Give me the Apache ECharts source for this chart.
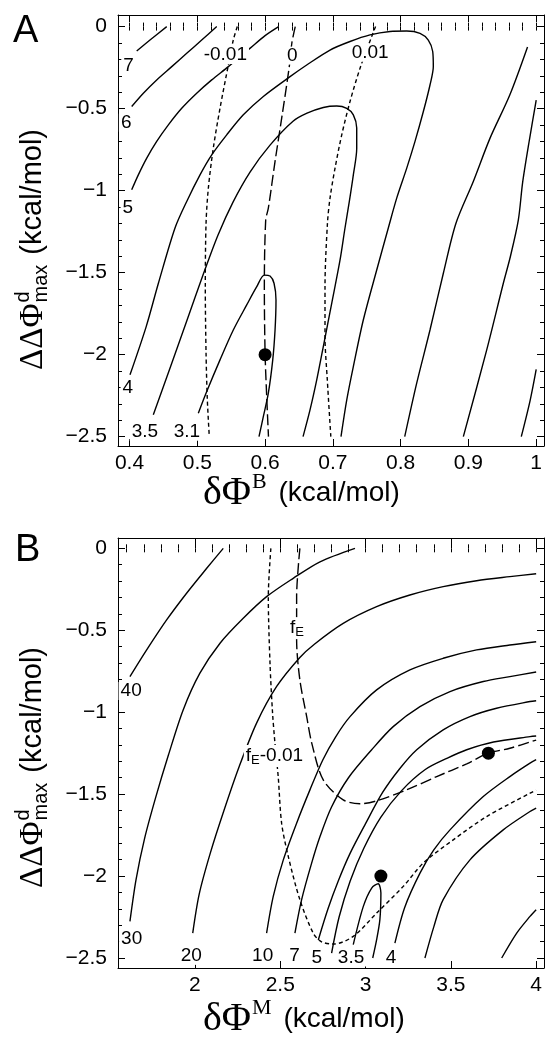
<!DOCTYPE html>
<html>
<head>
<meta charset="utf-8">
<script src="https://cdn.jsdelivr.net/npm/echarts@6/dist/echarts.min.js"></script>
<style>
  html, body { margin: 0; padding: 0; background: #fff; }
  #chart { width: 546px; height: 1039px; }
</style>
</head>
<body>
<div id="chart"></div>
<script>
const SANS = '"Liberation Sans", Arial, sans-serif';
const SERIF = '"Liberation Serif", "Times New Roman", serif';

// ---- axes (panel A: dPhiB, panel B: dPhiM) ----
const aXRange = [0.383, 1.0115];
const aYRange = [-2.557, 0.0706];
const bXRange = [1.549, 4.046];
const bYRange = [-2.561, 0.063];
const aXMajor = [0.4, 0.5, 0.6, 0.7, 0.8, 0.9, 1];
const bXMajor = [2, 2.5, 3, 3.5, 4];
const yMajor = [0, -0.5, -1, -1.5, -2, -2.5];

// ---- panel A contours ----
const aC7 = [[0.4106,-0.149],[0.4302,-0.082],[0.4549,0]];
const aC6 = [[0.4032,-0.487],[0.4204,-0.406],[0.4401,-0.325],[0.4623,-0.244],[0.4844,-0.163],[0.5065,-0.082],[0.5287,0]];
const aC5 = [[0.4032,-0.995],[0.413,-0.904],[0.4254,-0.802],[0.4401,-0.700],[0.4573,-0.599],[0.477,-0.498],[0.4991,-0.406],[0.5213,-0.325],[0.5458,-0.244],[0.5785,-0.13],[0.6,-0.055],[0.62,0]];
const aC4 = [[0.4007,-2.123],[0.4246,-1.829],[0.4426,-1.565],[0.4671,-1.228],[0.4844,-1.066],[0.504,-0.904],[0.5213,-0.782],[0.5434,-0.660],[0.5679,-0.538],[0.5974,-0.426],[0.6368,-0.305],[0.6614,-0.234],[0.6958,-0.143],[0.7253,-0.091],[0.7548,-0.051],[0.7843,-0.030],[0.809,-0.027],[0.8286,-0.041],[0.8408,-0.082],[0.8473,-0.152],[0.8482,-0.244],[0.8433,-0.356],[0.8335,-0.518],[0.8212,-0.700],[0.809,-0.863],[0.7942,-1.046],[0.7818,-1.228],[0.7647,-1.484],[0.7449,-1.789],[0.7302,-2.073],[0.7205,-2.276],[0.712,-2.5]];
const aC35 = [[0.4351,-2.367],[0.4598,-2.081],[0.4844,-1.795],[0.5084,-1.515],[0.5306,-1.271],[0.5527,-1.070],[0.5778,-0.887],[0.6073,-0.723],[0.6412,-0.577],[0.6619,-0.528],[0.6859,-0.493],[0.7057,-0.484],[0.7205,-0.498],[0.7302,-0.538],[0.7352,-0.619],[0.7352,-0.741],[0.7302,-0.904],[0.7243,-1.066],[0.7179,-1.228],[0.7106,-1.423],[0.6983,-1.687],[0.6859,-1.951],[0.6762,-2.154],[0.6663,-2.337],[0.656,-2.5]];
const aC31 = [[0.5015,-2.357],[0.5139,-2.225],[0.5335,-2.032],[0.5531,-1.850],[0.5729,-1.697],[0.5877,-1.586],[0.5989,-1.515],[0.6073,-1.521],[0.6132,-1.565],[0.6161,-1.667],[0.6147,-1.850],[0.6113,-2.032],[0.6048,-2.235],[0.5974,-2.378],[0.591,-2.5]];
const aR1 = [[0.9872,-0.124],[0.961,-0.417],[0.9319,-0.680],[0.9072,-0.944],[0.8815,-1.2],[0.863,-1.504],[0.8433,-1.850],[0.8237,-2.174],[0.806,-2.5]];
const aR2 = [[1.0,-0.449],[0.99,-0.69],[0.98,-0.95],[0.9736,-1.18],[0.962,-1.40],[0.9515,-1.565],[0.927,-1.971],[0.8925,-2.5]];
const aR3 = [[1.0,-2.09],[0.991,-2.28],[0.978,-2.5]];
const aDm = [[0.559,0],[0.5531,-0.082],[0.5458,-0.234],[0.5335,-0.498],[0.5236,-0.741],[0.5163,-0.985],[0.5129,-1.2],[0.5118,-1.586],[0.5129,-1.991],[0.5148,-2.276],[0.5177,-2.5]];
const aD0 = [[0.6445,0],[0.6395,-0.1],[0.6355,-0.25],[0.6245,-0.558],[0.6147,-0.822],[0.6048,-1.107],[0.6009,-1.18],[0.5989,-1.586],[0.6,-1.991],[0.6024,-2.256],[0.605,-2.5]];
const aDp = [[0.763,0],[0.7573,-0.061],[0.7401,-0.254],[0.7253,-0.457],[0.7131,-0.660],[0.7032,-0.863],[0.6958,-1.046],[0.692,-1.2],[0.6884,-1.586],[0.6884,-1.890],[0.6918,-2.154],[0.697,-2.5]];
const aLabels = [[0.3993,-0.244,'7'],[0.3958,-0.589,'6'],[0.3983,-1.107,'5'],[0.3983,-2.205,'4'],[0.4234,-2.473,'3.5'],[0.4853,-2.473,'3.1'],[0.5421,-0.177,'-0.01'],[0.641,-0.18,'0'],[0.7558,-0.163,'0.01']];
const aDots = [[0.6,-2.0]];

// ---- panel B contours ----
const bC40 = [[1.619,-0.783],[1.717,-0.620],[1.834,-0.437],[1.951,-0.274],[2.069,-0.122],[2.166,0]];
const bC30 = [[1.619,-2.277],[1.655,-2.02],[1.705,-1.77],[1.77,-1.52],[1.845,-1.26],[1.931,-0.986],[2.029,-0.762],[2.147,-0.579],[2.283,-0.427],[2.420,-0.295],[2.576,-0.183],[2.733,-0.082],[2.938,0]];
const bC20 = [[1.987,-2.348],[2.025,-2.11],[2.09,-1.86],[2.17,-1.60],[2.26,-1.33],[2.362,-1.065],[2.479,-0.843],[2.615,-0.666],[2.70,-0.585],[2.869,-0.458],[3.065,-0.356],[3.260,-0.285],[3.455,-0.234],[3.651,-0.198],[3.846,-0.173],[4.0,-0.155]];
const bC10 = [[2.420,-2.348],[2.459,-2.124],[2.518,-1.901],[2.596,-1.677],[2.674,-1.474],[2.75,-1.29],[2.825,-1.15],[2.909,-1.027],[3.065,-0.864],[3.260,-0.742],[3.455,-0.671],[3.651,-0.620],[3.846,-0.590],[4.0,-0.57]];
const bC7 = [[2.586,-2.348],[2.625,-2.145],[2.684,-1.921],[2.733,-1.759],[2.80,-1.58],[2.90,-1.40],[3.036,-1.229],[3.162,-1.088],[3.319,-0.966],[3.495,-0.874],[3.690,-0.813],[3.846,-0.783],[4.0,-0.755]];
const bC5 = [[2.723,-2.39],[2.78,-2.20],[2.84,-2.03],[2.91,-1.86],[3.0,-1.68],[3.1,-1.49],[3.2,-1.345],[3.30,-1.229],[3.455,-1.108],[3.612,-1.027],[3.768,-0.976],[3.964,-0.935],[4.0,-0.93]];
const bC45 = [[2.801,-2.47],[2.845,-2.25],[2.91,-2.03],[2.99,-1.83],[3.09,-1.64],[3.21,-1.48],[3.35,-1.35],[3.48,-1.28],[3.593,-1.229],[3.75,-1.182],[3.964,-1.149],[4.0,-1.145]];
const bC35 = [[2.928,-2.418],[2.987,-2.185],[3.036,-2.073],[3.074,-2.047],[3.090,-2.104],[3.084,-2.266],[3.065,-2.388],[3.042,-2.5]];
const bC4 = [[3.172,-2.409],[3.23,-2.19],[3.319,-1.982],[3.40,-1.84],[3.495,-1.718],[3.690,-1.515],[3.85,-1.39],[3.964,-1.311],[4.0,-1.29]];
const bC3 = [[3.348,-2.5],[3.40,-2.31],[3.455,-2.144],[3.612,-1.901],[3.807,-1.718],[3.964,-1.606],[4.0,-1.585]];
const bC2 = [[3.798,-2.5],[3.886,-2.348],[3.964,-2.246],[4.0,-2.205]];
const bFE = [[2.615,0],[2.596,-0.295],[2.596,-0.559],[2.615,-0.803],[2.655,-1.027],[2.685,-1.19],[2.752,-1.413],[2.869,-1.535],[2.967,-1.559],[3.065,-1.541],[3.241,-1.474],[3.417,-1.393],[3.593,-1.315],[3.719,-1.25],[3.846,-1.220],[4.0,-1.17]];
const bFEm = [[2.445,0],[2.430,-0.295],[2.440,-0.701],[2.455,-1.006],[2.469,-1.189],[2.488,-1.393],[2.508,-1.677],[2.547,-1.880],[2.615,-2.144],[2.693,-2.348],[2.74,-2.40],[2.811,-2.415],[2.928,-2.368],[3.065,-2.226],[3.221,-2.063],[3.338,-1.921],[3.514,-1.779],[3.710,-1.637],[3.964,-1.494],[4.0,-1.475]];
const bLabels = [[1.629,-0.874,'40'],[1.632,-2.388,'30'],[1.981,-2.49,'20'],[2.40,-2.49,'10'],[2.586,-2.49,'7'],[2.717,-2.5,'5'],[2.918,-2.5,'3.5'],[3.153,-2.5,'4'],[2.601,-0.49,'{f|f}{s|E}'],[2.469,-1.271,'{f|f}{s|E}{f|-0.01}']];
const bDots = [[3.72,-1.25],[3.09,-2.0]];

function steps(from, to, step) {
  const out = [];
  for (let v = from; v <= to + 1e-9; v += step) out.push(+v.toFixed(4));
  return out;
}
const fmtY = v => (v < 0 ? '\u2212' + String(-v) : String(v));

function axesFor(gi, dim, range, major, minor) {
  const pos = dim === 'x' ? ['bottom', 'top'] : ['left', 'right'];
  const base = {
    type: 'value', gridIndex: gi, min: range[0], max: range[1],
    splitLine: {show: false},
    axisLine: {onZero: false, lineStyle: {color: '#000', width: 1}}
  };
  const tick = (vals, len) => ({inside: true, length: len, customValues: vals, lineStyle: {color: '#000', width: 1}});
  return [
    {...base, position: pos[0], axisTick: tick(major, 7),
      axisLabel: {customValues: major, color: '#000', fontSize: 21, fontFamily: SANS,
        margin: dim === 'x' ? 7 : 11, formatter: dim === 'x' ? (v => String(v)) : fmtY}},
    {...base, position: pos[0], axisLine: {show: false}, axisTick: tick(minor, 4), axisLabel: {show: false}},
    {...base, position: pos[1], axisTick: tick(major, 7), axisLabel: {show: false}},
    {...base, position: pos[1], axisLine: {show: false}, axisTick: tick(minor, 4), axisLabel: {show: false}}
  ];
}

function contour(gi, data, dash) {
  return {
    type: 'line', xAxisIndex: gi * 4, yAxisIndex: gi * 4, data,
    showSymbol: false, smooth: 0.3, silent: true, animation: false, z: 2,
    lineStyle: {color: '#000', width: 1.4, type: dash || 'solid'}
  };
}
function labels(gi, data) {
  return {
    type: 'scatter', xAxisIndex: gi * 4, yAxisIndex: gi * 4, data,
    symbolSize: 1, itemStyle: {color: 'rgba(0,0,0,0)'}, silent: true, animation: false, z: 5,
    label: {
      show: true, position: [0, 0], align: 'center', verticalAlign: 'middle',
      formatter: p => p.data[2],
      color: '#000', opacity: 1, textBorderWidth: 0, fontSize: 19, lineHeight: 18, fontFamily: SANS,
      backgroundColor: '#fff', padding: [0, 2],
      rich: {
        f: {fontSize: 19, fontFamily: SANS, color: '#000', lineHeight: 22},
        s: {fontSize: 13, fontFamily: SANS, color: '#000', lineHeight: 13, verticalAlign: 'bottom'}
      }
    }
  };
}
function dots(gi, data) {
  return {
    type: 'scatter', xAxisIndex: gi * 4, yAxisIndex: gi * 4, data,
    symbolSize: 13, itemStyle: {color: '#000', opacity: 1}, silent: true, animation: false, z: 6
  };
}

// text width helper for the rotated y titles
const mctx = document.createElement('canvas').getContext('2d');
function textW(str, font) { mctx.font = font; return mctx.measureText(str).width; }

function xTitle(x, y, sup) {
  return {
    type: 'text', x, y, silent: true,
    style: {
      text: '{s|δΦ}{p|' + sup + '}{n| (kcal/mol)}',
      align: 'left', verticalAlign: 'middle', textAlign: 'left', textVerticalAlign: 'middle',
      rich: {
        s: {fontSize: 40, fontFamily: SERIF, fill: '#000', lineHeight: 44},
        p: {fontSize: 22, fontFamily: SERIF, fill: '#000', lineHeight: 22, verticalAlign: 'top', padding: [0, 4, 0, 1]},
        n: {fontSize: 28, fontFamily: SANS, fill: '#000', lineHeight: 44}
      }
    }
  };
}
function yTitle(x, y) {
  const f1 = '33px ' + SERIF, f2 = '20px ' + SANS, f3 = '29px ' + SANS;
  const w1 = textW('ΔΔΦ', f1), w2 = textW('max', f2);
  const t = (tx, ty, text, font) => ({
    type: 'text', x: tx, y: ty, silent: true,
    style: {text, font, fill: '#000', align: 'left', verticalAlign: 'middle', textAlign: 'left', textVerticalAlign: 'middle'}
  });
  return {
    type: 'group', x, y, rotation: Math.PI / 2, silent: true,
    children: [
      t(0, 0, 'ΔΔΦ', f1),
      t(w1 + 1, -10, 'd', f2),
      t(w1 + 1, 8, 'max', f2),
      t(w1 + w2 + 11, 0, '(kcal/mol)', f3)
    ]
  };
}

const chart = echarts.init(document.getElementById('chart'), null, {renderer: 'canvas'});
chart.setOption({
  backgroundColor: '#fff',
  animation: false,
  grid: [
    {left: 118, top: 15, width: 426, height: 431},
    {left: 118, top: 538, width: 426, height: 430}
  ],
  xAxis: [
    ...axesFor(0, 'x', aXRange, aXMajor, steps(0.4, 1.0, 0.02)),
    ...axesFor(1, 'x', bXRange, bXMajor, steps(1.6, 4.0, 0.1))
  ],
  yAxis: [
    ...axesFor(0, 'y', aYRange, yMajor, steps(-2.5, 0, 0.1)),
    ...axesFor(1, 'y', bYRange, yMajor, steps(-2.5, 0, 0.1))
  ],
  series: [
    contour(0, aC7), contour(0, aC6), contour(0, aC5), contour(0, aC4),
    contour(0, aC35), contour(0, aC31), contour(0, aR1), contour(0, aR2), contour(0, aR3),
    contour(0, aDm, [4, 3]), contour(0, aD0, [11, 4]), contour(0, aDp, [4, 3]),
    labels(0, aLabels), dots(0, aDots),
    contour(1, bC40), contour(1, bC30), contour(1, bC20), contour(1, bC10), contour(1, bC7),
    contour(1, bC5), contour(1, bC45), contour(1, bC35), contour(1, bC4), contour(1, bC3), contour(1, bC2),
    contour(1, bFE, [11, 4]), contour(1, bFEm, [4, 3]),
    labels(1, bLabels), dots(1, bDots)
  ],
  graphic: [
    {type: 'text', x: 13, y: 32, silent: true,
      style: {text: 'A', font: '38px ' + SANS, fill: '#000', align: 'left', verticalAlign: 'middle', textAlign: 'left', textVerticalAlign: 'middle'}},
    {type: 'text', x: 15, y: 551, silent: true,
      style: {text: 'B', font: '38px ' + SANS, fill: '#000', align: 'left', verticalAlign: 'middle', textAlign: 'left', textVerticalAlign: 'middle'}},
    xTitle(203, 493, 'B'),
    xTitle(203, 1019, 'M'),
    yTitle(33, 370),
    yTitle(33, 888)
  ]
});
</script>
</body>
</html>
